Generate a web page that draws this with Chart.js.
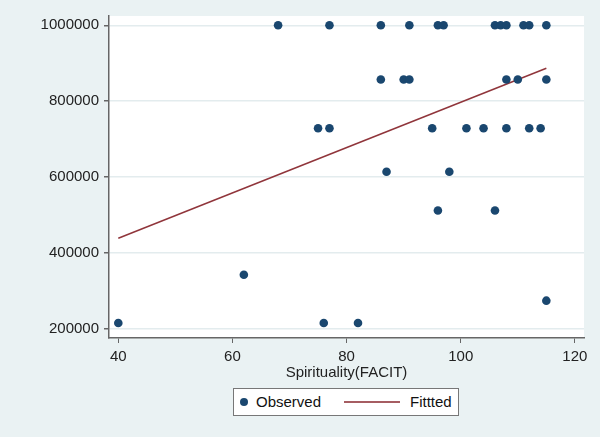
<!DOCTYPE html>
<html>
<head>
<meta charset="utf-8">
<script src="https://cdn.jsdelivr.net/npm/chart.js@4"></script>
<style>
  html, body { margin: 0; padding: 0; background: #eaf2f3; }
  #wrap { position: relative; width: 600px; height: 437px; }
  #chart { position: absolute; left: 0; top: 0; }
  #legend {
    position: absolute; left: 233px; top: 388px; width: 224px; height: 26px;
    background: #fff; border: 1px solid #777; font: 15px "Liberation Sans", Arial, sans-serif; color: #111;
  }
  #legend .dot { position: absolute; left: 6px; top: 9px; width: 8px; height: 8px; border-radius: 50%; background: #1a476f; }
  #legend .lbl1 { position: absolute; left: 22px; top: 4px; }
  #legend .ln { position: absolute; left: 110px; top: 12px; width: 56px; height: 0; border-top: 2px solid #90353b; opacity: 0.8; }
  #legend .lbl2 { position: absolute; left: 176px; top: 4px; }
</style>
</head>
<body>
<div id="wrap">
  <canvas id="chart" width="600" height="437"></canvas>
  <div id="legend">
    <span class="dot"></span><span class="lbl1">Observed</span>
    <span class="ln"></span><span class="lbl2">Fittted</span>
  </div>
</div>
<script>
// observed points grouped by their y level
const yLevels = [1000000, 857375, 729000, 614125, 512000, 343000, 216000, 274625];
const xAtLevel = [
  [68, 77, 86, 91, 96, 97, 106, 107, 108, 111, 112, 115],
  [86, 90, 91, 108, 110, 115],
  [75, 77, 95, 101, 104, 108, 112, 114],
  [87, 98],
  [96, 106],
  [62],
  [40, 76, 82],
  [115]
];
const fitX = [40, 115];
const fitY = [439000, 887000];
const xTicks = [40, 60, 80, 100, 120];
const yTicks = [200000, 400000, 600000, 800000, 1000000];

const observed = [];
yLevels.forEach((y, i) => xAtLevel[i].forEach(x => observed.push({ x, y })));
const fitted = fitX.map((x, i) => ({ x, y: fitY[i] }));

const font = { family: '"Liberation Sans", Arial, sans-serif', size: 15 };

const bgPlugin = {
  id: 'bg',
  beforeDraw(chart) {
    const { ctx, chartArea: a } = chart;
    ctx.save();
    ctx.fillStyle = '#eaf2f3';
    ctx.fillRect(0, 0, chart.width, chart.height);
    ctx.fillStyle = '#ffffff';
    ctx.fillRect(a.left, a.top, a.right - a.left, a.bottom - a.top);
    ctx.restore();
  }
};

new Chart(document.getElementById('chart'), {
  type: 'scatter',
  data: {
    datasets: [
      {
        label: 'Observed',
        data: observed,
        backgroundColor: '#1a476f',
        borderColor: '#1a476f',
        pointRadius: 4.3,
        pointBorderWidth: 0
      },
      {
        label: 'Fittted',
        data: fitted,
        showLine: true,
        borderColor: '#90353b',
        borderWidth: 1.5,
        pointRadius: 0
      }
    ]
  },
  options: {
    responsive: false,
    animation: false,
    layout: { padding: { left: 0, top: 16, right: 16, bottom: 54 } },
    plugins: { legend: { display: false }, tooltip: { enabled: false } },
    scales: {
      x: {
        type: 'linear',
        min: 38.37,
        max: 121.6,
        afterBuildTicks: s => { s.ticks = xTicks.map(v => ({ value: v })); },
        afterFit: s => { s.height = 45; },
        ticks: { font, color: '#222', padding: 5, maxRotation: 0 },
        grid: { drawOnChartArea: false, drawTicks: true, tickLength: 5, tickColor: '#666' },
        border: { color: '#666', width: 1.5 },
        title: { display: true, text: 'Spirituality(FACIT)', font, color: '#222', padding: { top: 0, bottom: 1 } }
      },
      y: {
        type: 'linear',
        min: 176300,
        max: 1024500,
        afterBuildTicks: s => { s.ticks = yTicks.map(v => ({ value: v })); },
        afterFit: s => { s.width = 109; },
        ticks: { font, color: '#222', padding: 5, callback: v => String(v) },
        grid: { color: '#e3ecee', lineWidth: 1.5, tickLength: 5, tickColor: '#666' },
        border: { color: '#666', width: 1.5 }
      }
    }
  },
  plugins: [bgPlugin]
});
</script>
</body>
</html>
